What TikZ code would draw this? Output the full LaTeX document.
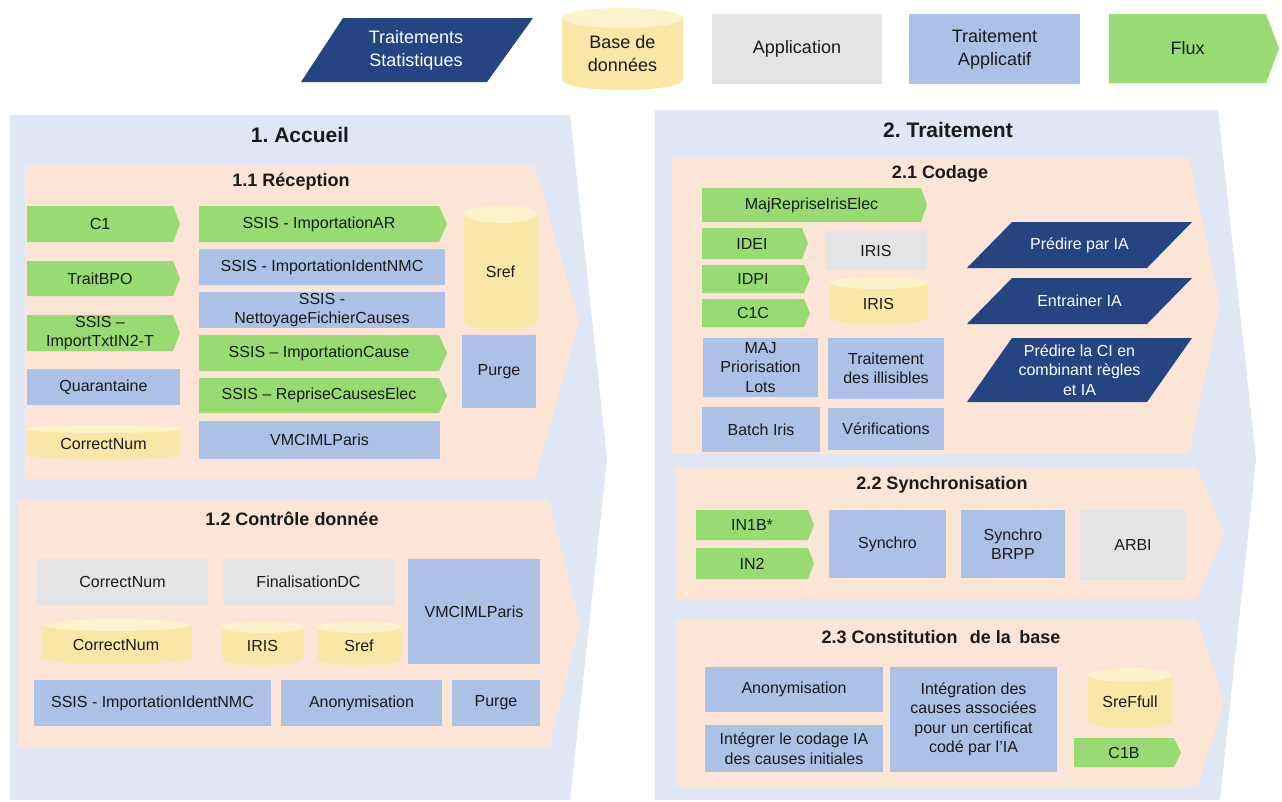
\documentclass[tikz,border=0pt]{standalone}
\usepackage{fontspec}
\setmainfont{Liberation Sans}
\frenchspacing

% palette
\definecolor{statblue}{RGB}{36,68,130}
\definecolor{flowgreen}{RGB}{151,219,114}
\definecolor{appgrey}{RGB}{227,228,230}
\definecolor{procblue}{RGB}{171,193,230}
\definecolor{dbbody}{RGB}{250,230,166}
\definecolor{dbtop}{RGB}{253,242,204}
\definecolor{stagebg}{RGB}{223,230,244}
\definecolor{stepbg}{RGB}{252,228,214}
\definecolor{ink}{RGB}{26,26,26}

\tikzset{
  lbl/.style={inner sep=0pt, align=center, text=ink, font=\fontsize{16}{19.5}\selectfont},
  leg/.style={lbl, font=\fontsize{18}{23}\selectfont},
  whitelbl/.style={lbl, text=white},
  whiteleg/.style={leg, text=white},
  stagetitle/.style={inner sep=0pt, text=ink, font=\bfseries\fontsize{21}{25}\selectfont},
  steptitle/.style={inner sep=0pt, text=ink, font=\bfseries\fontsize{18}{22}\selectfont},
  procbox/.style={lbl, fill=procblue},
  appbox/.style={lbl, fill=appgrey},
}

% rectangle node: style, x1, y1, x2, y2, name, text
\newcommand\rbox[7]{%
  \node[#1, minimum width={(#4)-(#2)}, minimum height={(#5)-(#3)}]
    (#6) at ({((#2)+(#4))/2},{((#3)+(#5))/2}) {#7};}

% flow chevron: style, x1, y1, xtip, y2, tip depth, name, text
\newcommand\flow[8]{%
  \fill[flowgreen] (#2,#3) -- ({#4-#6},#3) -- (#4,{(#3+#5)/2})
    -- ({#4-#6},#5) -- (#2,#5) -- cycle;
  \node[#1] (#7) at ({(#2+#4-#6)/2},{(#3+#5)/2}) {#8};}

% database cylinder: style, x1, y1, x2, y2, rim radius, name, text
\newcommand\dbase[8]{%
  \fill[dbbody] (#2,{#3+#6}) -- (#2,{#5-#6})
    arc[start angle=180, end angle=360, x radius={(#4-#2)/2*1pt}, y radius={#6*1pt}]
    -- (#4,{#3+#6}) -- cycle;
  \fill[dbtop] ({(#2+#4)/2},{#3+#6}) ellipse [x radius={(#4-#2)/2*1pt}, y radius={#6*1pt}];
  \node[#1] (#7) at ({(#2+#4)/2},{(#3+#5)/2+#6/2}) {#8};}

% statistical processing parallelogram:
% style, x bottom-left, x top-left, x top-right, x bottom-right, y top, y bottom, name, text
\newcommand\para[9]{%
  \fill[statblue] (#2,#7) -- (#3,#6) -- (#4,#6) -- (#5,#7) -- cycle;
  \node[#1] (#8) at ({(#2+#3+#4+#5)/4},{(#6+#7)/2}) {#9};}

\begin{document}
\begin{tikzpicture}[x=1pt, y=-1pt]
\useasboundingbox (0,0) rectangle (1282,801);
\fill[white] (0,0) rectangle (1282,801);

% ---------------- legend ----------------
\para{whiteleg}{301}{343}{533}{487}{18}{82}{legStat}{Traitements\\Statistiques}
\dbase{leg}{562}{8}{683}{90}{10}{legDb}{Base de\\données}
\rbox{appbox,leg}{712}{14}{882}{84}{legApp}{Application}
\rbox{procbox,leg}{909}{14}{1080}{84}{legProc}{Traitement\\Applicatif}
\flow{leg}{1109}{14}{1279}{83}{13}{legFlux}{Flux}

% ---------------- 1. Accueil ----------------
\fill[stagebg] (10,115) -- (570,115) -- (607,459) -- (570,800) -- (10,800) -- cycle;
\node[stagetitle] (accueil) at (300,135) {1. Accueil};

% 1.1 Réception
\fill[stepbg] (25,165) -- (535,165) -- (579,322) -- (535,479) -- (25,479) -- cycle;
\node[steptitle] (reception) at (291,182) {1.1 Réception};

\flow{lbl}{27}{206}{180}{242}{7}{c1}{C1}
\flow{lbl}{27}{261}{180}{296}{7}{traitbpo}{TraitBPO}
\flow{lbl}{27}{315}{180}{351}{7}{importtxt}{SSIS –\\ImportTxtIN2-T}
\rbox{procbox}{27}{369}{180}{405}{quarantaine}{Quarantaine}
\dbase{lbl}{27}{425}{180}{459}{4}{correctnumA}{CorrectNum}

\flow{lbl}{199}{206}{447}{242}{8}{importar}{SSIS - ImportationAR}
\rbox{procbox}{199}{249}{445}{285}{importnmcA}{SSIS - ImportationIdentNMC}
\rbox{procbox}{199}{292}{445}{328}{nettoyage}{SSIS -\\NettoyageFichierCauses}
\flow{lbl}{199}{335}{447}{371}{8}{importcause}{SSIS – ImportationCause}
\flow{lbl}{199}{378}{447}{413}{8}{reprise}{SSIS – RepriseCausesElec}
\rbox{procbox}{199}{421}{440}{459}{vmcimlA}{VMCIMLParis}

\dbase{lbl}{464}{205}{537}{330}{9}{srefA}{Sref}
\rbox{procbox}{462}{335}{536}{408}{purgeA}{Purge}

% 1.2 Contrôle donnée
\fill[stepbg] (18,500) -- (549,500) -- (580,624) -- (549,748) -- (18,748) -- cycle;
\node[steptitle] (controle) at (292,519) {1.2 Contrôle donnée};

\rbox{appbox}{37}{559}{208}{605}{correctnumB}{CorrectNum}
\rbox{appbox}{223}{559}{394}{605}{finalisation}{FinalisationDC}
\rbox{procbox}{408}{559}{540}{664}{vmcimlB}{VMCIMLParis}
\dbase{lbl}{41}{619}{191}{664}{6}{correctnumC}{CorrectNum}
\dbase{lbl}{222}{621}{303}{665}{6}{irisA}{IRIS}
\dbase{lbl}{317}{621}{401}{665}{6}{srefB}{Sref}
\rbox{procbox}{34}{680}{271}{726}{importnmcB}{SSIS - ImportationIdentNMC}
\rbox{procbox}{281}{680}{442}{726}{anonA}{Anonymisation}
\rbox{procbox}{452}{680}{540}{726}{purgeB}{Purge}

% ---------------- 2. Traitement ----------------
\fill[stagebg] (655,110) -- (1218,110) -- (1256,459) -- (1220,800) -- (655,800) -- cycle;
\node[stagetitle] (traitement) at (948,130) {2. Traitement};

% 2.1 Codage
\fill[stepbg] (672,157) -- (1189,157) -- (1220,305) -- (1189,454) -- (672,454) -- cycle;
\node[steptitle] (codage) at (940,174) {2.1 Codage};

\flow{lbl}{702}{188}{927}{222}{6}{majreprise}{MajRepriseIrisElec}
\flow{lbl}{702}{228}{808}{259}{6}{idei}{IDEI}
\flow{lbl}{702}{265}{810}{293}{6}{idpi}{IDPI}
\flow{lbl}{702}{299}{810}{327}{6}{c1c}{C1C}
\rbox{appbox}{825}{231}{927}{270}{irisgrey}{IRIS}
\dbase{lbl}{830}{277}{927}{324}{6}{irisB}{IRIS}
\rbox{procbox}{703}{338}{818}{397}{majprio}{MAJ\\Priorisation\\Lots}
\rbox{procbox}{828}{338}{944}{399}{illisibles}{Traitement\\des illisibles}
\rbox{procbox}{702}{407}{820}{452}{batchiris}{Batch Iris}
\rbox{procbox}{828}{408}{944}{450}{verifs}{Vérifications}

\para{whitelbl}{967}{1012}{1192}{1147}{222}{268}{predireIA}{Prédire par IA}
\para{whitelbl}{967}{1012}{1192}{1147}{278}{324}{entrainerIA}{Entrainer IA}
\para{whitelbl}{967}{1012}{1192}{1147}{338}{402}{predireCI}{Prédire la CI en\\combinant règles\\et IA}

% 2.2 Synchronisation
\fill[stepbg] (675,467) -- (1197,467) -- (1224,533) -- (1197,599) -- (675,599) -- cycle;
\node[steptitle] (synchronisation) at (942,485) {2.2 Synchronisation};

\flow{lbl}{696}{510}{814}{540}{6}{inib}{IN1B*}
\flow{lbl}{696}{548}{814}{579}{6}{intwo}{IN2}
\rbox{procbox}{829}{510}{946}{578}{synchro}{Synchro}
\rbox{procbox}{961}{510}{1065}{578}{synchrobrpp}{Synchro\\BRPP}
\rbox{appbox}{1080}{510}{1186}{580}{arbi}{ARBI}

% 2.3 Constitution de la base
\fill[stepbg] (675,619) -- (1197,619) -- (1224,703) -- (1197,787) -- (675,787) -- cycle;
\node[steptitle] (constitution) at (941,637) {2.3 Constitution\hspace{0.4em} de la\hspace{0.2em} base};

\rbox{procbox}{705}{667}{883}{712}{anonB}{Anonymisation}
\rbox{procbox}{705}{725}{883}{772}{integrer}{Intégrer le codage IA\\des causes initiales}
\rbox{procbox}{890}{667}{1057}{772}{integration}{Intégration des\\causes associées\\pour un certificat\\codé par l’IA}
\dbase{lbl}{1088}{668}{1172}{728}{7}{sreffull}{SreFfull}
\flow{lbl}{1074}{738}{1181}{767}{7}{cib}{C1B}
\end{tikzpicture}
\end{document}
